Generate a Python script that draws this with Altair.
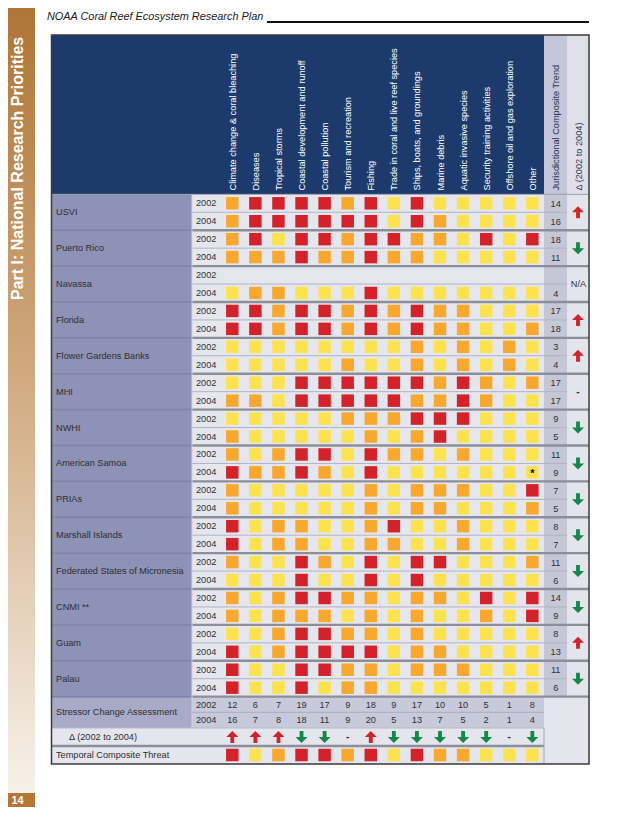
import altair as alt
import pandas as pd

# ------------------------------------------------------------------ data
stressors = [
    "Climate change & coral bleaching", "Diseases", "Tropical storms",
    "Coastal development and runoff", "Coastal pollution", "Tourism and recreation",
    "Fishing", "Trade in coral and live reef species", "Ships, boats, and groundings",
    "Marine debris", "Aquatic invasive species", "Security training activities",
    "Offshore oil and gas exploration", "Other",
]
jurisdictions = [
    "USVI", "Puerto Rico", "Navassa", "Florida", "Flower Gardens Banks", "MHI", "NWHI",
    "American Samoa", "PRIAs", "Marshall Islands", "Federated States of Micronesia",
    "CNMI  **", "Guam", "Palau",
]
years = ["2002", "2004"]

# threat level per stressor: R = high, O = medium, Y = low, "" = not assessed
threat_2002 = [
    "ORRRRORYRYYYYY", "ORYRRORROOYRYR", "", "RRORROROROOYYY", "YYYYYYYYOYOYOY",
    "YYYRRRRRROROYO", "YYYYYOOORRRYYY", "OYORRYROOYOYYY", "OYYYYYOYOOOYYR",
    "RYOOYYORYYOYYY", "OYYROYRYRRYYYO", "OYORROOYOOYRYR", "YYORROOYOYYYYY",
    "RYYRROOYOOOYYY",
]
threat_2004 = [
    "ORRRRRRYROYYYY", "OOOROOROOYYYYY", "YOOYYYRYYYYYYY", "RRORROROROOYYO",
    "YYYYYOYYOYOYOY", "OOYRRRRROOROYY", "OYYYYYOYORYYYY", "ROOROYRYYYYYYY",
    "OYYYYYOYOOYYYO", "RYOOYYOOYYOYYY", "YYYRYYRYRYYYYY", "OYOOOYOYOYYOYR",
    "RYORRRRYOOYYYY", "RYYRYOOYYYYYYY",
]
composite_2002 = [14, 18, None, 17, 3, 17, 9, 11, 7, 8, 11, 14, 8, 11]
composite_2004 = [16, 11, 4, 18, 4, 17, 5, 9, 5, 7, 6, 9, 13, 6]
composite_trend = ["up", "down", "N/A", "up", "up", "-", "down", "down", "down",
                   "down", "down", "down", "up", "down"]
stressor_2002 = [12, 6, 7, 19, 17, 9, 18, 9, 17, 10, 10, 5, 1, 8]
stressor_2004 = [16, 7, 8, 18, 11, 9, 20, 5, 13, 7, 5, 2, 1, 4]
stressor_trend = ["up", "up", "up", "down", "down", "-", "up", "down", "down",
                  "down", "down", "down", "-", "down"]
temporal_threat = ["R", "Y", "O", "R", "R", "O", "R", "Y", "R", "O", "O", "Y", "Y", "Y"]
cell_notes = [("American Samoa", "2004", "Other", "*")]

title_text = "NOAA Coral Reef Ecosystem Research Plan"
side_text = "Part I: National Research Priorities"
page_number = "14"

# ------------------------------------------------------------------ style / layout
LEVEL = {"R": "#d3222a", "O": "#f8a72f", "Y": "#fde250"}
UP_COL, DOWN_COL = "#d3222a", "#12894a"
SANS = "Liberation Sans, Arial, Helvetica, sans-serif"
FS = 9.2

X0, DX = 232.3, 23.08
Y0, DY = 203.3, 17.94
cx = lambda i: X0 + i * DX
ry = lambda r: Y0 + r * DY

L, RR = 51.5, 589.0
LAB_R, DATA_R, COMP_R = 192.0, 544.0, 567.0
TOP = 35.0
HEAD_B = ry(-0.5)
BODY_B = ry(27.5)
SCA_B, DEL_B, BOT = 728.0, 746.0, 764.0
SCA_MID = (BODY_B + SCA_B) / 2
SCA_Y = [(BODY_B + SCA_MID) / 2 + 0.3, (SCA_MID + SCA_B) / 2]
DEL_Y = (SCA_B + DEL_B) / 2
TCT_Y = (DEL_B + BOT) / 2

XS = alt.Scale(domain=[8, 622], nice=False, zero=False)
YS = alt.Scale(domain=[8, 807], nice=False, zero=False, reverse=True)
X = lambda f="x": alt.X(f"{f}:Q", scale=XS, axis=None)
Y = lambda f="y": alt.Y(f"{f}:Q", scale=YS, axis=None)

# ------------------------------------------------------------------ backgrounds
rects = [
    (L, DATA_R, TOP, HEAD_B, "#1c3a6c"),
    (DATA_R, COMP_R, TOP, HEAD_B, "#c4c6d9"),
    (COMP_R, RR, TOP, HEAD_B, "#dfe0ea"),
    (L, LAB_R, HEAD_B, BODY_B, "#8f92b7"),
    (LAB_R, DATA_R, HEAD_B, BODY_B, "#e6e7ee"),
    (DATA_R, COMP_R, HEAD_B, BODY_B, "#c5c7d7"),
    (COMP_R, RR, HEAD_B, BODY_B, "#e3e4ec"),
    (L, LAB_R, BODY_B, SCA_B, "#a8aac7"),
    (LAB_R, DATA_R, BODY_B, SCA_B, "#c8cadb"),
    (L, DATA_R, SCA_B, BOT, "#e4e5ed"),
    (DATA_R, RR, BODY_B, BOT, "#e4e5ed"),
    (0, 35, 793, 815, "#b47738"),
]
rect_df = pd.DataFrame(rects, columns=["x", "x2", "y", "y2", "c"])
rect_layer = alt.Chart(rect_df).mark_rect().encode(
    x=X(), x2="x2:Q", y=Y(), y2="y2:Q", color=alt.Color("c:N", scale=None))

side_df = pd.DataFrame([{"x": 0, "x2": 35, "y": 0, "y2": 793}])
side_layer = alt.Chart(side_df).mark_rect(
    color=alt.LinearGradient(
        gradient="linear", x1=0, x2=0, y1=0, y2=1,
        stops=[alt.GradientStop(color="#ad7434", offset=0),
               alt.GradientStop(color="#d2ad85", offset=0.5),
               alt.GradientStop(color="#f7f1ea", offset=1)])
).encode(x=X(), x2="x2:Q", y=Y(), y2="y2:Q")

# ------------------------------------------------------------------ lines
rules = []
for g in range(14):
    rules.append((LAB_R, COMP_R, ry(2 * g + 0.5), ry(2 * g + 0.5), "#b1b3c0", 1.0))
for g in range(1, 15):
    yy = ry(2 * g - 0.5)
    rules.append((L, LAB_R, yy, yy, "#7f83a8", 1.5))
    rules.append((LAB_R, RR, yy, yy, "#8c8e99", 2.4))
rules += [
    (L, RR, HEAD_B, HEAD_B, "#9a9cab", 1.0),
    (LAB_R, LAB_R, HEAD_B, SCA_B, "#d3d4df", 1.0),
    (LAB_R, DATA_R, SCA_MID, SCA_MID, "#aaacbe", 1.0),
    (L, DATA_R, SCA_B, SCA_B, "#b9bbc9", 1.0),
    (L, DATA_R, DEL_B, DEL_B, "#8c8e99", 2.4),
    (DATA_R, DATA_R, SCA_B, BOT, "#a3a5b3", 1.0),
    (267, RR, 22, 22, "#111111", 2.0),
]
rule_df = pd.DataFrame(rules, columns=["x", "x2", "y", "y2", "c", "w"])
rule_layer = alt.Chart(rule_df).mark_rule().encode(
    x=X(), x2="x2:Q", y=Y(), y2="y2:Q",
    color=alt.Color("c:N", scale=None), size=alt.Size("w:Q", scale=None))

border_layer = alt.Chart(pd.DataFrame([{"x": L, "x2": RR, "y": TOP, "y2": BOT}])).mark_rect(
    fillOpacity=0, stroke="#3a3a3a", strokeWidth=1.5
).encode(x=X(), x2="x2:Q", y=Y(), y2="y2:Q")

# ------------------------------------------------------------------ squares
sq = []
for j in range(len(jurisdictions)):
    for k, codes in enumerate([threat_2002[j], threat_2004[j]]):
        for i, c in enumerate(codes):
            sq.append({"x": cx(i), "y": ry(2 * j + k), "c": LEVEL[c]})
for i, c in enumerate(temporal_threat):
    sq.append({"x": cx(i), "y": TCT_Y, "c": LEVEL[c]})
sq_layer = alt.Chart(pd.DataFrame(sq)).mark_square(size=156, opacity=1).encode(
    x=X(), y=Y(), color=alt.Color("c:N", scale=None))

# ------------------------------------------------------------------ texts
def text_layer(rows, **kw):
    props = dict(font=SANS, fontSize=FS, color="#303030", align="left", baseline="middle")
    props.update(kw)
    return alt.Chart(pd.DataFrame(rows)).mark_text(**props).encode(x=X(), y=Y(), text="t:N")

gc = lambda j: ry(2 * j + 0.5)

head_rows = [{"x": cx(i) + 0.5, "y": 190.5, "t": s} for i, s in enumerate(stressors)]
head_layer = text_layer(head_rows, angle=270, color="#ffffff")
head2_layer = text_layer(
    [{"x": 556.0, "y": 190.5, "t": "Jurisdictional Composite Trend"},
     {"x": 578.5, "y": 190.5, "t": "\u0394  (2002 to 2004)"}],
    angle=270, color="#2b3553")

label_rows = [{"x": 56, "y": gc(j), "t": n} for j, n in enumerate(jurisdictions)]
label_rows += [{"x": 56, "y": (BODY_B + SCA_B) / 2, "t": "Stressor Change Assessment"},
               {"x": 69, "y": DEL_Y, "t": "\u0394 (2002 to 2004)"},
               {"x": 56, "y": TCT_Y, "t": "Temporal Composite Threat"}]
label_layer = text_layer(label_rows, color="#2e2e2e")

year_rows = [{"x": 196, "y": ry(r), "t": years[r % 2]} for r in range(28)]
year_rows += [{"x": 196, "y": SCA_Y[k], "t": years[k]} for k in range(2)]
year_layer = text_layer(year_rows)

num_rows = []
for j in range(len(jurisdictions)):
    for k, v in enumerate([composite_2002[j], composite_2004[j]]):
        if v is not None:
            num_rows.append({"x": 555.7, "y": ry(2 * j + k) + 0.5, "t": str(v)})
for i in range(len(stressors)):
    num_rows.append({"x": cx(i), "y": SCA_Y[0], "t": str(stressor_2002[i])})
    num_rows.append({"x": cx(i), "y": SCA_Y[1], "t": str(stressor_2004[i])})
for j, t in enumerate(composite_trend):
    if t == "N/A":
        num_rows.append({"x": 578.5, "y": gc(j), "t": "N/A"})
num_layer = text_layer(num_rows, align="center")

dash_rows = [{"x": 578, "y": gc(j), "t": "-"} for j, t in enumerate(composite_trend) if t == "-"]
dash_rows += [{"x": cx(i), "y": DEL_Y, "t": "-"} for i, t in enumerate(stressor_trend) if t == "-"]
dash_layer = text_layer(dash_rows, align="center", fontWeight="bold", fontSize=10)

note_rows = [{"x": cx(stressors.index(s)), "y": ry(2 * jurisdictions.index(j) + years.index(yv)) + 1.5, "t": t}
             for j, yv, s, t in cell_notes]
note_layer = text_layer(note_rows, align="center", fontWeight="bold", fontSize=11, color="#111111")

title_layer = text_layer([{"x": 47, "y": 17, "t": title_text}],
                         fontSize=10.9, fontStyle="italic", color="#1a1a1a")
side_txt_layer = text_layer([{"x": 17.5, "y": 300, "t": side_text}],
                            fontSize=16, fontWeight="bold", color="#ffffff", angle=270)
page_layer = text_layer([{"x": 17.5, "y": 800.5, "t": page_number}],
                        fontSize=11, fontWeight="bold", color="#ffffff", align="center")

# ------------------------------------------------------------------ arrows
UP = "M0,-1L1,0L0.32,0L0.32,1L-0.32,1L-0.32,0L-1,0Z"
DOWN = "M0,1L1,0L0.32,0L0.32,-1L-0.32,-1L-0.32,0L-1,0Z"
arrows = [{"x": 578, "y": gc(j), "d": t} for j, t in enumerate(composite_trend) if t in ("up", "down")]
arrows += [{"x": cx(i), "y": DEL_Y, "d": t} for i, t in enumerate(stressor_trend) if t in ("up", "down")]
arrow_df = pd.DataFrame(arrows)
up_layer = alt.Chart(arrow_df[arrow_df.d == "up"]).mark_point(
    shape=UP, filled=True, size=144, opacity=1, color=UP_COL, strokeWidth=0).encode(x=X(), y=Y())
down_layer = alt.Chart(arrow_df[arrow_df.d == "down"]).mark_point(
    shape=DOWN, filled=True, size=144, opacity=1, color=DOWN_COL, strokeWidth=0).encode(x=X(), y=Y())

chart = alt.layer(
    side_layer, rect_layer, rule_layer, border_layer, sq_layer,
    head_layer, head2_layer, label_layer, year_layer, num_layer, dash_layer, note_layer,
    title_layer, side_txt_layer, page_layer, up_layer, down_layer,
).properties(
    width=614, height=799, padding=0, autosize=alt.AutoSizeParams(type="none"),
    background="#ffffff",
).configure_view(strokeWidth=0)

chart.save("out.html", embed_options={"renderer": "svg", "actions": False})
